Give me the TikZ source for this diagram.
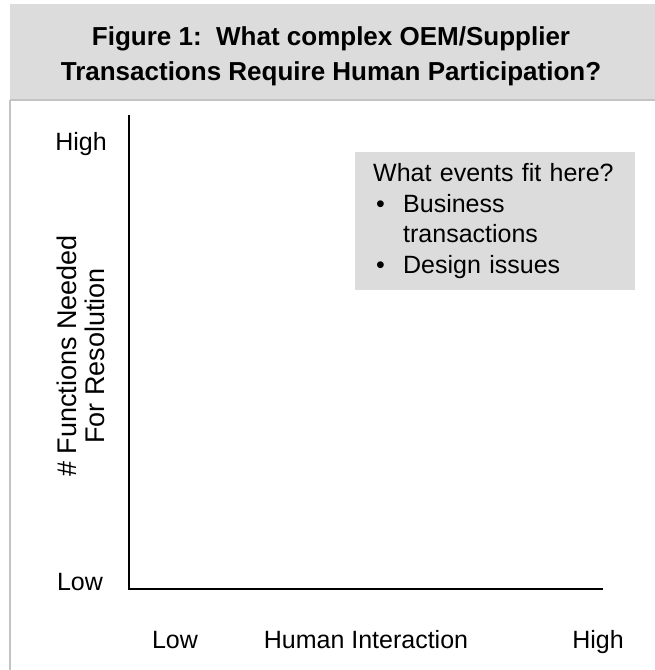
\documentclass[tikz,border=0pt]{standalone}
\usepackage{fontspec}
\setmainfont{Liberation Sans}
\usepackage{tikz}
\usetikzlibrary{positioning}
\definecolor{bandgray}{RGB}{220,220,220}
\definecolor{rulegray}{RGB}{195,195,195}
\tikzset{
  axislabel/.style={font=\fontsize{25}{30}\selectfont, anchor=base, inner sep=0pt},
  axisline/.style={line width=2.6pt}
}
\begin{document}
\begin{tikzpicture}[x=1pt,y=-1pt]
\useasboundingbox (0,0) rectangle (655,670);
% Titelband
\fill[bandgray] (10,4) rectangle (655,99);
\draw[rulegray, line width=2pt] (10,100) -- (655,100);
\draw[rulegray, line width=2pt] (10,100) -- (10,670);
\node[font=\bfseries\fontsize{26}{35}\selectfont, align=center] (title) at (331,56)
  {Figure 1:\ \ What complex OEM/Supplier\\Transactions Require Human Participation?};

% Achsen
\coordinate (top) at (129,115);
\coordinate (origin) at (129,589);
\coordinate (right) at (603,589);
\draw[axisline] (top) -- (origin) -- (right);

% y-Achse
\node[axislabel] (yhigh) at (81,150) {High};
\node[axislabel] (ylow) at (80,590) {Low};
\node[rotate=90, align=center, font=\fontsize{27}{28}\selectfont] (ytitle) at (81,356)
  {\# Functions Needed\\For Resolution};

% x-Achse
\node[axislabel] (xlow) at (175,648) {Low};
\node[axislabel] (xtitle) at (366,648) {Human Interaction};
\node[axislabel] (xhigh) at (598,648) {High};

% Kasten
\node[fill=bandgray, anchor=north west, text width=244pt, inner xsep=18pt, inner ysep=0pt,
  minimum height=138pt, align=left, font=\fontsize{25}{30.5}\selectfont] (events) at (355,152)
  {What events fit here?\\
   \makebox[30pt][l]{\hspace{3pt}\textbullet}Business\\
   \makebox[30pt][l]{}transactions\\
   \makebox[30pt][l]{\hspace{3pt}\textbullet}Design issues};
\end{tikzpicture}
\end{document}
